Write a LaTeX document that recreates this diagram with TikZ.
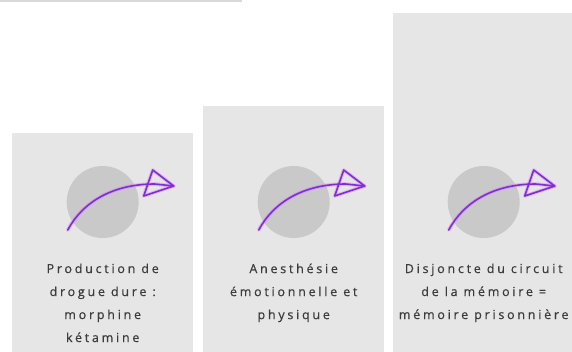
\documentclass[tikz,border=0pt]{standalone}
\usepackage{fontspec}
\setmainfont{Open Sans}
\newfontfamily\captionfont{Open Sans}[LetterSpace=22, FakeBold=0.6]
\usetikzlibrary{positioning}

\definecolor{panelgray}{HTML}{E6E6E6}
\definecolor{dotgray}{HTML}{C9C9C9}
\definecolor{arrowpurple}{HTML}{7A2FD9}
\definecolor{glowpink}{HTML}{E07BF0}
\definecolor{textgray}{HTML}{3C3C3C}
\definecolor{rulegray}{HTML}{D9D9D9}

\begin{document}
\begin{tikzpicture}[
    x=1pt, y=-1pt,
    panel/.style={fill=panelgray, minimum width=181pt, minimum height=345pt,
                  anchor=north west, inner sep=0pt},
    dot/.style={circle, fill=dotgray, minimum size=72pt, inner sep=0pt},
    caption/.style={anchor=north, align=center, text=textgray,
                    font=\captionfont\fontsize{12.5}{23}\selectfont},
    glow/.style={draw=glowpink, line width=3.6pt, opacity=0.45,
                 line join=round, line cap=round},
    pen/.style={draw=arrowpurple, line width=1.6pt,
                line join=round, line cap=round},
    swoosh/.pic={
      \path[glow] (-35,28) .. controls (-20,0) and (10,-18) .. (52,-18) -- (71,-16);
      \path[glow] (71,-16) -- (50,-32) -- (41,-6) -- cycle;
      \path[pen] (-35,28) .. controls (-20,0) and (10,-18) .. (52,-18) -- (71,-16);
      \path[pen] (71,-16) -- (50,-32) -- (41,-6) -- cycle;
    }
  ]
  \useasboundingbox (0,0) rectangle (572,351);
  \clip (0,0) rectangle (572,351);

  % faint rule left over at the top
  \draw[rulegray, line width=1.5pt] (0,1) -- (242,1);

  % the three panels, rising to the right
  \node[panel] (p1) at (12,133) {};
  \node[panel] (p2) at (203,106) {};
  \node[panel] (p3) at (393,13) {};

  % icons
  \node[dot] (d1) at (p1.north |- 0,202) {};
  \node[dot] (d2) at (p2.north |- 0,202) {};
  \node[dot] (d3) at (p3.north |- 0,202) {};
  \pic at (d1) {swoosh};
  \pic at (d2) {swoosh};
  \pic at (d3) {swoosh};

  % captions
  \node[caption] (t1) at (p1.north |- 0,260)
    {Production de\\drogue dure :\\morphine\\kétamine};
  \node[caption] (t2) at (p2.north |- 0,260)
    {Anesthésie\\émotionnelle et\\physique};
  \node[caption] (t3) at (p3.north |- 0,260)
    {Disjoncte du circuit\\de la mémoire =\\mémoire prisonnière};
\end{tikzpicture}
\end{document}
